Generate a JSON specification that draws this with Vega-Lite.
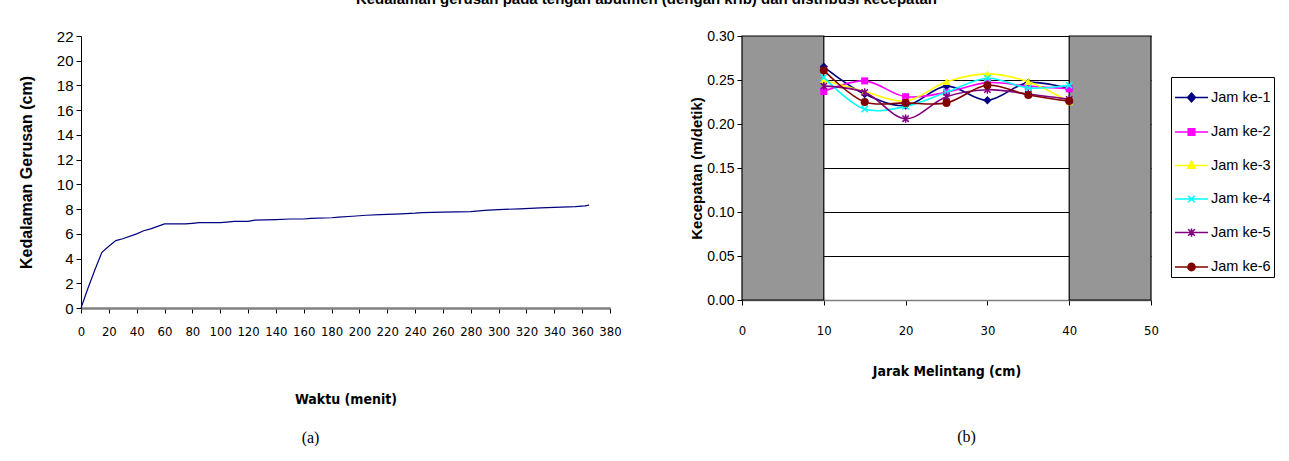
{
  "$schema": "https://vega.github.io/schema/vega-lite/v6.json",
  "padding": {"left": 18, "top": -8, "right": 140, "bottom": 0},
  "background": "white",
  "title": {
    "text": "Kedalaman gerusan pada tengah abutmen (dengan krib) dan distribusi kecepatan",
    "font": "Liberation Sans", "fontSize": 15, "fontWeight": "bold", "color": "black",
    "anchor": "middle", "offset": 22
  },
  "config": {
    "view": {"stroke": null},
    "axis": {"labelColor": "black", "titleColor": "black", "tickColor": "black", "domainColor": "black", "grid": false},
    "legend": {"orient": "none", "legendX": 1090, "legendY": 41, "direction": "vertical",
      "padding": 3, "strokeColor": "black", "fillColor": "white",
      "labelFont": "Liberation Sans", "labelFontSize": 14.5, "labelColor": "black", "labelOffset": 2,
      "symbolSize": 1089, "symbolStrokeWidth": 1.5, "rowPadding": 9.5, "symbolOpacity": 1}
  },
  "datasets": {
    "scour": [
      {"t": 0, "d": 0}, {"t": 5, "d": 1.6}, {"t": 10, "d": 3.1}, {"t": 15, "d": 4.5}, {"t": 20, "d": 5.0},
      {"t": 25, "d": 5.45}, {"t": 30, "d": 5.6}, {"t": 40, "d": 6.0}, {"t": 45, "d": 6.25}, {"t": 50, "d": 6.4},
      {"t": 60, "d": 6.8}, {"t": 75, "d": 6.8}, {"t": 80, "d": 6.85}, {"t": 85, "d": 6.9}, {"t": 100, "d": 6.9},
      {"t": 105, "d": 6.95}, {"t": 110, "d": 7.0}, {"t": 120, "d": 7.0}, {"t": 125, "d": 7.1}, {"t": 140, "d": 7.15},
      {"t": 150, "d": 7.2}, {"t": 160, "d": 7.2}, {"t": 165, "d": 7.25}, {"t": 180, "d": 7.3}, {"t": 185, "d": 7.35},
      {"t": 195, "d": 7.42}, {"t": 205, "d": 7.5}, {"t": 215, "d": 7.56}, {"t": 230, "d": 7.62}, {"t": 240, "d": 7.67},
      {"t": 245, "d": 7.72}, {"t": 260, "d": 7.76}, {"t": 280, "d": 7.8}, {"t": 290, "d": 7.9}, {"t": 300, "d": 7.96},
      {"t": 315, "d": 8.02}, {"t": 330, "d": 8.1}, {"t": 345, "d": 8.16}, {"t": 355, "d": 8.2}, {"t": 362, "d": 8.26},
      {"t": 365, "d": 8.32}
    ],
    "boxes": [
      {"x": 0, "xe": 10, "v": 0, "ve": 0.3},
      {"x": 40, "xe": 50, "v": 0, "ve": 0.3}
    ],
    "vel": [
      {"series": "Jam ke-1", "x": 10, "v": 0.265}, {"series": "Jam ke-1", "x": 15, "v": 0.234}, {"series": "Jam ke-1", "x": 20, "v": 0.221},
      {"series": "Jam ke-1", "x": 25, "v": 0.243}, {"series": "Jam ke-1", "x": 30, "v": 0.227}, {"series": "Jam ke-1", "x": 35, "v": 0.247},
      {"series": "Jam ke-1", "x": 40, "v": 0.240},
      {"series": "Jam ke-2", "x": 10, "v": 0.237}, {"series": "Jam ke-2", "x": 15, "v": 0.249}, {"series": "Jam ke-2", "x": 20, "v": 0.231},
      {"series": "Jam ke-2", "x": 25, "v": 0.236}, {"series": "Jam ke-2", "x": 30, "v": 0.247}, {"series": "Jam ke-2", "x": 35, "v": 0.243},
      {"series": "Jam ke-2", "x": 40, "v": 0.240},
      {"series": "Jam ke-3", "x": 10, "v": 0.250}, {"series": "Jam ke-3", "x": 15, "v": 0.237}, {"series": "Jam ke-3", "x": 20, "v": 0.226},
      {"series": "Jam ke-3", "x": 25, "v": 0.248}, {"series": "Jam ke-3", "x": 30, "v": 0.257}, {"series": "Jam ke-3", "x": 35, "v": 0.248},
      {"series": "Jam ke-3", "x": 40, "v": 0.225},
      {"series": "Jam ke-4", "x": 10, "v": 0.253}, {"series": "Jam ke-4", "x": 15, "v": 0.217}, {"series": "Jam ke-4", "x": 20, "v": 0.220},
      {"series": "Jam ke-4", "x": 25, "v": 0.236}, {"series": "Jam ke-4", "x": 30, "v": 0.252}, {"series": "Jam ke-4", "x": 35, "v": 0.241},
      {"series": "Jam ke-4", "x": 40, "v": 0.244},
      {"series": "Jam ke-5", "x": 10, "v": 0.243}, {"series": "Jam ke-5", "x": 15, "v": 0.236}, {"series": "Jam ke-5", "x": 20, "v": 0.206},
      {"series": "Jam ke-5", "x": 25, "v": 0.231}, {"series": "Jam ke-5", "x": 30, "v": 0.239}, {"series": "Jam ke-5", "x": 35, "v": 0.234},
      {"series": "Jam ke-5", "x": 40, "v": 0.228},
      {"series": "Jam ke-6", "x": 10, "v": 0.261}, {"series": "Jam ke-6", "x": 15, "v": 0.225}, {"series": "Jam ke-6", "x": 20, "v": 0.224},
      {"series": "Jam ke-6", "x": 25, "v": 0.224}, {"series": "Jam ke-6", "x": 30, "v": 0.244}, {"series": "Jam ke-6", "x": 35, "v": 0.233},
      {"series": "Jam ke-6", "x": 40, "v": 0.226}
    ]
  },
  "hconcat": [
    {
      "width": 529, "height": 272,
      "title": {"text": "(a)", "orient": "bottom", "font": "Liberation Serif", "fontSize": 16, "fontWeight": "normal", "color": "black", "offset": 24, "anchor": "middle", "dx": -35},
      "data": {"name": "scour"},
      "mark": {"type": "line", "color": "#000080", "strokeWidth": 1.2},
      "encoding": {
        "x": {"field": "t", "type": "quantitative", "scale": {"domain": [0, 380], "nice": false},
          "axis": {"title": "Waktu  (menit)", "values": [0,20,40,60,80,100,120,140,160,180,200,220,240,260,280,300,320,340,360,380],
            "domainColor": "#808080", "domainWidth": 2.5, "tickSize": 5, "labelPadding": 12,
            "labelFont": "DejaVu Sans Condensed, Liberation Sans, sans-serif", "labelFontSize": 13, "labelOverlap": false, "labelFlush": false,
            "titleFont": "DejaVu Sans Condensed, Liberation Sans, sans-serif", "titleFontSize": 14, "titleFontWeight": "bold", "titlePadding": 54}},
        "y": {"field": "d", "type": "quantitative", "scale": {"domain": [0, 22], "nice": false},
          "axis": {"title": "Kedalaman Gerusan  (cm)", "values": [0,2,4,6,8,10,12,14,16,18,20,22],
            "tickSize": 5, "labelPadding": 3, "labelFont": "Liberation Sans", "labelFontSize": 15, "labelOverlap": false,
            "titleFont": "Liberation Sans", "titleFontSize": 16, "titleFontWeight": "bold", "titlePadding": 22}}
      }
    },
    {
      "width": 409, "height": 264,
      "title": {"text": "(b)", "orient": "bottom", "font": "Liberation Serif", "fontSize": 16, "fontWeight": "normal", "color": "black", "offset": 51, "anchor": "middle", "dx": 20},
      "layer": [
        {
          "data": {"name": "boxes"},
          "mark": {"type": "rect", "fill": "#969696", "stroke": "black", "strokeWidth": 1.2},
          "encoding": {
            "x": {"field": "x", "type": "quantitative", "scale": {"domain": [0, 50], "nice": false},
              "axis": {"title": "Jarak Melintang (cm)", "values": [0,10,20,30,40,50],
                "domainColor": "#808080", "domainWidth": 1.5, "tickSize": 5, "labelPadding": 19,
                "labelFont": "DejaVu Sans Condensed, Liberation Sans, sans-serif", "labelFontSize": 13, "labelFlush": false,
                "titleFont": "DejaVu Sans Condensed, Liberation Sans, sans-serif", "titleFontSize": 14, "titleFontWeight": "bold", "titlePadding": 27}},
            "x2": {"field": "xe"},
            "y": {"field": "v", "type": "quantitative", "scale": {"domain": [0, 0.3], "nice": false},
              "axis": {"title": "Kecepatan  (m/detik)", "values": [0,0.05,0.1,0.15,0.2,0.25,0.3], "format": ".2f",
                "grid": true, "gridColor": "black", "gridWidth": 1, "gridOpacity": 1,
                "tickSize": 5, "labelPadding": 3, "labelFont": "Liberation Sans", "labelFontSize": 14,
                "titleFont": "Liberation Sans", "titleFontSize": 15, "titleFontWeight": "bold", "titlePadding": 2}},
            "y2": {"field": "ve"}
          }
        },
        {
          "data": {"name": "vel"},
          "transform": [{"filter": {"field": "series", "equal": "Jam ke-1"}}],
          "mark": {"type": "line", "interpolate": "catmull-rom", "strokeWidth": 1.6, "color": "#000080",
            "point": {"shape": "diamond", "filled": true, "color": "#000080", "size": 70}},
          "encoding": {"x": {"field": "x", "type": "quantitative"}, "y": {"field": "v", "type": "quantitative"}}
        },
        {
          "data": {"name": "vel"},
          "transform": [{"filter": {"field": "series", "equal": "Jam ke-2"}}],
          "mark": {"type": "line", "interpolate": "catmull-rom", "strokeWidth": 1.6, "color": "#FF00FF",
            "point": {"shape": "square", "filled": true, "color": "#FF00FF", "size": 50}},
          "encoding": {"x": {"field": "x", "type": "quantitative"}, "y": {"field": "v", "type": "quantitative"}}
        },
        {
          "data": {"name": "vel"},
          "transform": [{"filter": {"field": "series", "equal": "Jam ke-3"}}],
          "mark": {"type": "line", "interpolate": "catmull-rom", "strokeWidth": 1.6, "color": "#FFFF00",
            "point": {"shape": "triangle-up", "filled": true, "color": "#FFFF00", "size": 60}},
          "encoding": {"x": {"field": "x", "type": "quantitative"}, "y": {"field": "v", "type": "quantitative"}}
        },
        {
          "data": {"name": "vel"},
          "transform": [{"filter": {"field": "series", "equal": "Jam ke-4"}}],
          "mark": {"type": "line", "interpolate": "catmull-rom", "strokeWidth": 1.6, "color": "#00FFFF",
            "point": {"shape": "M-1,-1L1,1M-1,1L1,-1", "filled": false, "color": "#00FFFF", "strokeWidth": 1.5, "size": 40}},
          "encoding": {"x": {"field": "x", "type": "quantitative"}, "y": {"field": "v", "type": "quantitative"}}
        },
        {
          "data": {"name": "vel"},
          "transform": [{"filter": {"field": "series", "equal": "Jam ke-5"}}],
          "mark": {"type": "line", "interpolate": "catmull-rom", "strokeWidth": 1.6, "color": "#800080",
            "point": {"shape": "M-1,-1L1,1M-1,1L1,-1M0,-1.3L0,1.3", "filled": false, "color": "#800080", "strokeWidth": 1.5, "size": 40}},
          "encoding": {"x": {"field": "x", "type": "quantitative"}, "y": {"field": "v", "type": "quantitative"}}
        },
        {
          "data": {"name": "vel"},
          "transform": [{"filter": {"field": "series", "equal": "Jam ke-6"}}],
          "mark": {"type": "line", "interpolate": "catmull-rom", "strokeWidth": 1.6, "color": "#800000",
            "point": {"shape": "circle", "filled": true, "color": "#800000", "size": 65}},
          "encoding": {"x": {"field": "x", "type": "quantitative"}, "y": {"field": "v", "type": "quantitative"}}
        },
        {
          "data": {"name": "vel"},
          "mark": {"type": "point", "filled": true, "opacity": 0, "size": 1089, "strokeWidth": 1.5},
          "encoding": {
            "x": {"field": "x", "type": "quantitative"},
            "y": {"field": "v", "type": "quantitative"},
            "color": {"field": "series", "type": "nominal",
              "scale": {"domain": ["Jam ke-1","Jam ke-2","Jam ke-3","Jam ke-4","Jam ke-5","Jam ke-6"],
                        "range": ["#000080","#FF00FF","#FFFF00","#00FFFF","#800080","#800000"]},
              "legend": {"title": null, "symbolSize": 1089, "labelFontSize": 14.5, "rowPadding": 9.5}},
            "stroke": {"field": "series", "type": "nominal",
              "scale": {"domain": ["Jam ke-1","Jam ke-2","Jam ke-3","Jam ke-4","Jam ke-5","Jam ke-6"],
                        "range": ["#000080","#FF00FF","#FFFF00","#00FFFF","#800080","#800000"]},
              "legend": {"title": null, "symbolSize": 1089, "labelFontSize": 14.5, "rowPadding": 9.5}},
            "shape": {"field": "series", "type": "nominal",
              "scale": {"domain": ["Jam ke-1","Jam ke-2","Jam ke-3","Jam ke-4","Jam ke-5","Jam ke-6"],
                "range": [
                  "M-1,0H1M0,-0.27L0.24,0L0,0.27L-0.24,0Z",
                  "M-1,0H1M-0.2,-0.2H0.2V0.2H-0.2Z",
                  "M-1,0H1M0,-0.27L0.24,0.17H-0.24Z",
                  "M-1,0H1M-0.2,-0.2L0.2,0.2M-0.2,0.2L0.2,-0.2",
                  "M-1,0H1M-0.2,-0.2L0.2,0.2M-0.2,0.2L0.2,-0.2M0,-0.25V0.25",
                  "M-1,0H1M0.22,0A0.22,0.22 0 1,1 -0.22,0A0.22,0.22 0 1,1 0.22,0Z"
                ]},
              "legend": {"title": null, "symbolSize": 1089, "labelFontSize": 14.5, "rowPadding": 9.5}}
          }
        }
      ]
    }
  ],
  "spacing": 67
}
